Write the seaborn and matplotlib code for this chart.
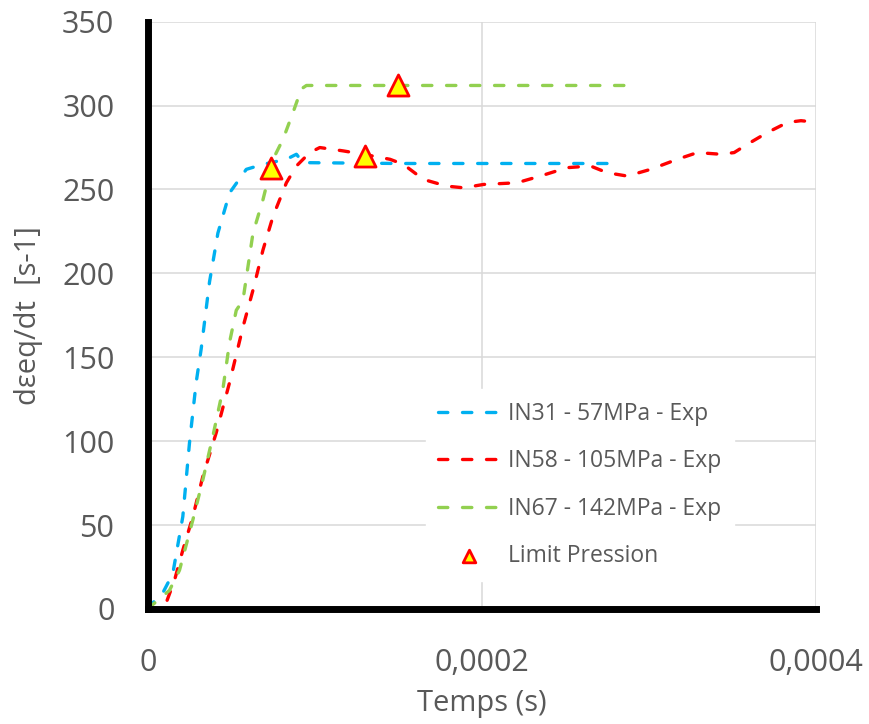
import pandas as pd
import matplotlib
matplotlib.use("Agg")
import matplotlib.pyplot as plt
import seaborn as sns

# IN31 - 57MPa
t_in31 = [0, 3e-6, 9e-6, 1.5e-5, 2.1e-5, 2.5e-5, 2.9e-5, 3.2e-5, 3.7e-5, 4.2e-5, 4.9e-5,
          5.9e-5, 6.9e-5, 8.3e-5, 8.9e-5, 9.3e-5, 1.5e-4, 2.0e-4, 2.8e-4]
v_in31 = [0, 3.6, 9.5, 21, 55, 99, 135, 155, 195, 224, 248,
          262, 265, 268, 271, 266, 265.5, 265.5, 265.5]

# IN58 - 105MPa
t_in58 = [0, 8e-6, 1.1e-5, 1.6e-5, 2.1e-5, 2.7e-5, 3.3e-5, 4.1e-5, 4.9e-5, 5.7e-5, 6.3e-5,
          6.9e-5, 7.5e-5, 8.3e-5, 8.9e-5, 9.7e-5, 1.03e-4, 1.17e-4, 1.29e-4, 1.45e-4,
          1.53e-4, 1.65e-4, 1.79e-4, 1.89e-4, 2.01e-4, 2.21e-4, 2.35e-4, 2.51e-4,
          2.65e-4, 2.75e-4, 2.87e-4, 3.01e-4, 3.17e-4, 3.29e-4, 3.43e-4, 3.51e-4,
          3.59e-4, 3.71e-4, 3.83e-4, 3.91e-4, 4.01e-4]
v_in58 = [0, 0, 3.5, 17, 35, 55, 79, 105, 135, 168, 190,
          214, 234, 254, 264, 272, 275, 273, 271, 268,
          265, 256, 252, 251, 253, 254, 258, 263,
          264, 260, 258, 262, 268, 272, 271, 272,
          277, 284, 290, 291, 290]

# IN67 - 142MPa
t_in67 = [0, 1.3e-5, 1.9e-5, 2.7e-5, 3.3e-5, 3.9e-5, 4.5e-5, 4.9e-5, 5.3e-5, 5.7e-5, 6.0e-5,
          6.3e-5, 6.9e-5, 7.5e-5, 8.1e-5, 8.7e-5, 9.2e-5, 9.5e-5, 2.0e-4, 2.89e-4]
v_in67 = [0, 11, 23, 53, 77, 103, 131, 159, 178, 184, 204,
          224, 244, 268, 280, 296, 310, 312, 312, 312]

# Limit Pression
t_limit = [7.4e-5, 1.3e-4, 1.5e-4]
v_limit = [263, 270, 312]

series = [
    ("IN31 - 57MPa - Exp", t_in31, v_in31, "#00B0F0"),
    ("IN58 - 105MPa - Exp", t_in58, v_in58, "#FF0000"),
    ("IN67 - 142MPa - Exp", t_in67, v_in67, "#92D050"),
]

sns.set_style("white")
plt.rcParams["font.family"] = ["Open Sans", "DejaVu Sans"]

fig = plt.figure(figsize=(8.69, 7.24), dpi=100)
ax = fig.add_axes([0.170, 0.159, 0.769, 0.811])

for name, t, v, col in series:
    df = pd.DataFrame({"t": t, "v": v})
    sns.lineplot(data=df, x="t", y="v", ax=ax, sort=False, color=col, lw=2.4,
                 label=name, linestyle=(0, (2.8, 4.4)), dash_capstyle="round")

lim = pd.DataFrame({"t": t_limit, "v": v_limit})
sns.scatterplot(data=lim, x="t", y="v", ax=ax, marker="^", s=230, color="#FFFF00",
                edgecolor="#FF0000", linewidth=2, label="Limit Pression", zorder=5)

ax.set_xlim(0, 0.0004)
ax.set_ylim(0, 350)
ax.set_xticks([0, 0.0002, 0.0004])
ax.set_xticklabels(["0", "0,0002", "0,0004"])
ax.set_yticks(range(0, 351, 50))
ax.grid(True, color="#D9D9D9", lw=1.1)
ax.set_axisbelow(True)
ax.tick_params(axis="both", length=0, labelsize=22, labelcolor="#595959")
ax.tick_params(axis="y", pad=24)
ax.tick_params(axis="x", pad=28)

for s in ["top", "right"]:
    ax.spines[s].set_visible(False)
ax.spines["left"].set_color("black")
ax.spines["left"].set_linewidth(5)
ax.spines["bottom"].set_color("black")
ax.spines["bottom"].set_linewidth(5)

ax.set_xlabel("Temps (s)", fontsize=21, color="#595959", labelpad=8)
ax.set_ylabel("dεeq/dt  [s-1]", fontsize=21, color="#595959", labelpad=14)

leg = ax.legend(loc="upper left", bbox_to_anchor=(0.416, 0.374), borderaxespad=0,
                frameon=True, facecolor="white", edgecolor="white", framealpha=1,
                fontsize=16.5, labelcolor="#595959", handlelength=2.7, labelspacing=1.02,
                borderpad=0.55, handletextpad=0.35, markerscale=0.6)
leg.get_frame().set_boxstyle("square", pad=0)

fig.savefig("out.png", dpi=100)
